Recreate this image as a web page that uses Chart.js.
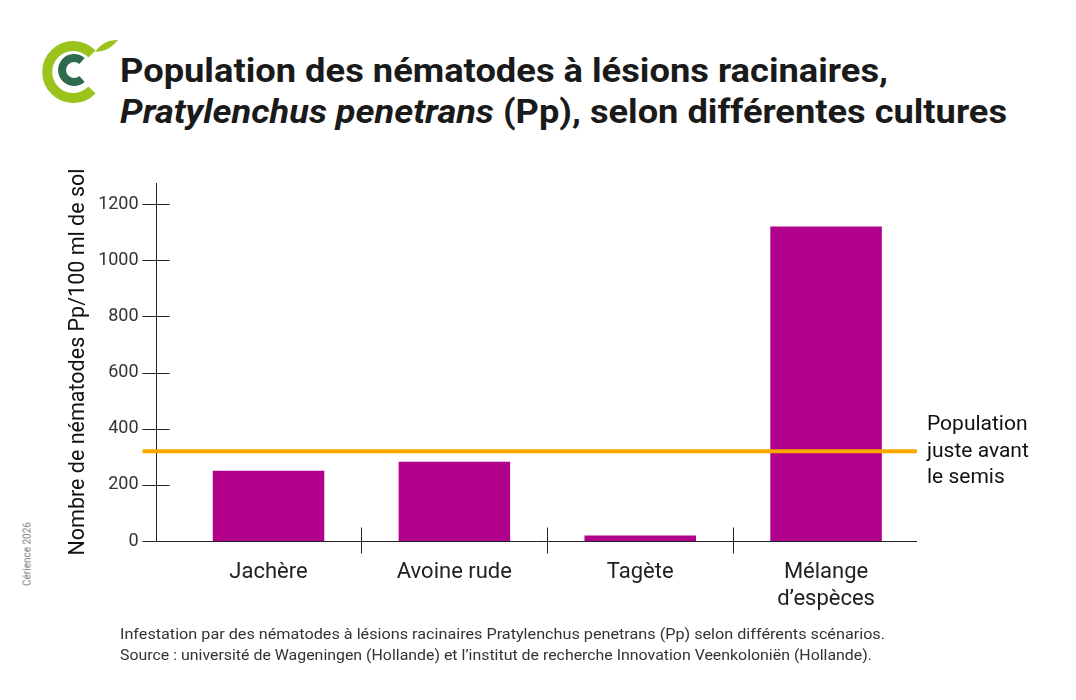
<!DOCTYPE html>
<html>
<head>
<meta charset="utf-8">
<title>Population des nématodes à lésions racinaires</title>
<script src="https://cdn.jsdelivr.net/npm/chart.js"></script>
<style>
    body {
        margin: 0;
        width: 1076px;
        height: 700px;
        position: relative;
        overflow: hidden;
        background: #fff;
        font-family: Roboto, "Open Sans", sans-serif;
        color: #111;
    }
    #chart { position: absolute; left: 0; top: 0; }
    .logo { position: absolute; left: 0; top: 0; }
    .txt { position: absolute; white-space: nowrap; transform-origin: left top; }
    .title { left: 120px; font-size: 34px; line-height: 34px; font-weight: bold; color: #1a1a1a; }
    .note { left: 120px; font-size: 15px; line-height: 15px; color: #333; }
    #legend { left: 927px; top: 410px; font-size: 21px; line-height: 26.5px; color: #111; }
    #credit {
        left: 27px; top: 554px; font-size: 10px; color: #777;
        transform-origin: center; transform: translate(-50%, -50%) rotate(-90deg);
    }
</style>
</head>
<body>
    <svg class="logo" width="130" height="110" viewBox="0 0 130 110">
        <path d="M 92 54 A 26 26 0 1 0 92 90" fill="none" stroke="#9bc31c" stroke-width="10"/>
        <path d="M 82 61 A 12 12 0 1 0 82 79" fill="none" stroke="#2e6b4e" stroke-width="8"/>
        <path d="M 95 52 Q 104 39 118 40 Q 109 52 95 52 Z" fill="#9bc31c"/>
    </svg>
    <div class="txt title" id="t1" style="top:53px">Population des nématodes à lésions racinaires,</div>
    <div class="txt title" id="t2" style="top:94px"><i>Pratylenchus penetrans</i> (Pp), selon différentes cultures</div>

    <canvas id="chart" width="1076" height="700"></canvas>

    <div class="txt" id="legend">Population<br>juste avant<br>le semis</div>
    <div class="txt" id="credit">Cérience 2026</div>
    <div class="txt note" id="n1" style="top:627px">Infestation par des nématodes à lésions racinaires Pratylenchus penetrans (Pp) selon différents scénarios.</div>
    <div class="txt note" id="n2" style="top:648px">Source : université de Wageningen (Hollande) et l’institut de recherche Innovation Veenkoloniën (Hollande).</div>

    <script>
        // Data
        const categories = ['Jachère', 'Avoine rude', 'Tagète', ['Mélange', 'd’espèces']];
        const populations = [250, 282, 20, 1120];
        const seuilSemis = 320;
        const yTicks = [0, 200, 400, 600, 800, 1000, 1200];
        const yMax = 1275;

        const barColor = '#b0008c';
        const lineColor = '#f9a800';
        const axisColor = '#222';

        // axis lines, tick marks and the orange threshold line
        const axesPlugin = {
            id: 'axes',
            afterDatasetsDraw(chart) {
                const { ctx, chartArea, scales: { x, y } } = chart;
                const axisX = Math.round(chartArea.left - 20) + 0.5;
                const base = Math.round(y.getPixelForValue(0)) + 0.5;
                const right = chartArea.right - 2;

                ctx.save();
                ctx.strokeStyle = axisColor;
                ctx.lineWidth = 1;
                ctx.beginPath();
                ctx.moveTo(axisX, y.getPixelForValue(yMax));
                ctx.lineTo(axisX, base);
                ctx.lineTo(right, base);
                y.ticks.forEach(t => {
                    const py = Math.round(y.getPixelForValue(t.value)) + 0.5;
                    ctx.moveTo(axisX - 14, py);
                    ctx.lineTo(axisX + 13, py);
                });
                for (let i = 0; i < categories.length - 1; i++) {
                    const px = Math.round((x.getPixelForValue(i) + x.getPixelForValue(i + 1)) / 2) + 0.5;
                    ctx.moveTo(px, base - 14);
                    ctx.lineTo(px, base + 12);
                }
                ctx.stroke();

                const ly = y.getPixelForValue(seuilSemis);
                ctx.strokeStyle = lineColor;
                ctx.lineWidth = 4;
                ctx.beginPath();
                ctx.moveTo(axisX - 14, ly);
                ctx.lineTo(right, ly);
                ctx.stroke();
                ctx.restore();
            }
        };

        new Chart(document.getElementById('chart'), {
            type: 'bar',
            data: {
                labels: categories,
                datasets: [{
                    data: populations,
                    backgroundColor: barColor,
                    barPercentage: 1,
                    categoryPercentage: 0.6
                }]
            },
            options: {
                responsive: false,
                animation: false,
                layout: { padding: { left: 60, top: 183, right: 157, bottom: 0 } },
                plugins: { legend: { display: false }, tooltip: { enabled: false } },
                scales: {
                    x: {
                        grid: { display: false, drawTicks: false },
                        border: { display: false },
                        ticks: {
                            color: '#222',
                            padding: 18,
                            maxRotation: 0,
                            font: { family: 'Roboto', size: 22, lineHeight: 1.23 }
                        },
                        afterFit: s => { s.height = 159; }
                    },
                    y: {
                        min: 0,
                        max: yMax,
                        grid: { display: false, drawTicks: false },
                        border: { display: false },
                        afterBuildTicks: s => { s.ticks = yTicks.map(v => ({ value: v })); },
                        ticks: {
                            color: '#333',
                            padding: 37,
                            font: { family: 'Roboto', size: 18 },
                            callback: v => String(v)
                        },
                        title: {
                            display: true,
                            text: 'Nombre de nématodes Pp/100 ml de sol',
                            color: '#111',
                            font: { family: 'Roboto', size: 21.5 },
                            padding: { top: 6, bottom: 0 }
                        },
                        afterFit: s => { s.width = 115.6; }
                    }
                }
            },
            plugins: [axesPlugin]
        });

        // stretch the html texts to the widths of the original
        function fitWidth(id, width) {
            const el = document.getElementById(id);
            el.style.transform = 'scaleX(' + (width / el.getBoundingClientRect().width) + ')';
        }
        fitWidth('t1', 768);
        fitWidth('t2', 887);
        fitWidth('n1', 765);
        fitWidth('n2', 752);
    </script>
</body>
</html>
